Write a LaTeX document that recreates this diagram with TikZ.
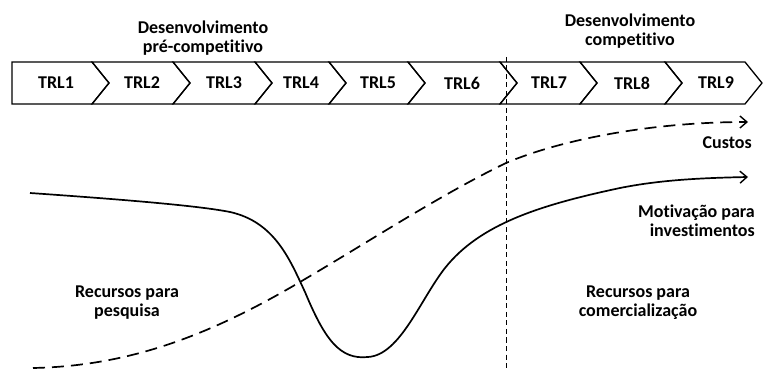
\documentclass[tikz,border=0pt]{standalone}
\usepackage{fontspec}
\setmainfont[RawFeature=-liga]{Carlito}
\usetikzlibrary{arrows.meta}
\begin{document}
\begin{tikzpicture}[x=1pt,y=-1pt,
  lbl/.style={font=\fontsize{18}{19}\selectfont\bfseries, inner sep=0pt, align=center},
  trl/.style={font=\fontsize{18}{19}\selectfont\bfseries, inner sep=0pt},
  chev/.style={draw=black, line width=1.3pt, line join=miter},
  curve/.style={line width=1.7pt, -{Straight Barb[length=7pt,width=12pt,line width=1.4pt]}},
  dcurve/.style={curve, dash pattern=on 12pt off 7pt},
  divider/.style={line width=0.9pt, dash pattern=on 5pt off 3.5pt}]
\useasboundingbox (0,0) rectangle (763,371);
% chevrons
\def\ytop{62}\def\ybot{104}\def\ymid{83}\def\dd{17}
\draw[chev] (12,\ytop) -- (92,\ytop) -- (92+\dd,\ymid) -- (92,\ybot) -- (12,\ybot) -- cycle;
\foreach \a/\b in {92/173,173/255,255/329,329/408,408/500,500/580,580/665,665/745}{
  \draw[chev] (\a,\ytop) -- (\b,\ytop) -- (\b+\dd,\ymid) -- (\b,\ybot) -- (\a,\ybot) -- (\a+\dd,\ymid) -- cycle;
}
\foreach \x/\t in {56/TRL1,142/TRL2,224/TRL3,301/TRL4,378/TRL5,462/TRL6,549/TRL7,632/TRL8,716/TRL9}{
  \node[trl] (\t) at (\x,\ymid) {\t};
}
% headings
\node[lbl] (pre) at (203,38) {Desenvolvimento\\pré-competitivo};
\node[lbl] (comp) at (630,31) {Desenvolvimento\\competitivo};
% divider
\coordinate (dtop) at (506,57);
\coordinate (dbot) at (506,371);
\draw[divider] (dtop) -- (dbot);
% curves
\coordinate (s0) at (30,193);
\coordinate (s1) at (748,177);
\draw[curve] (s0) .. controls (130,200) and (200,206) .. (230,212)
  .. controls (275,222) and (290,260) .. (305,292)
  .. controls (325,340) and (340,360) .. (368,357)
  .. controls (400,355) and (420,300) .. (445,268)
  .. controls (480,224) and (540,205) .. (620,188)
  .. controls (660,180) and (700,178) .. (s1);
\coordinate (d0) at (33,368);
\coordinate (d1) at (748,122);
\draw[dcurve] (d0) .. controls (130,366) and (210,335) .. (300,282)
  .. controls (370,241) and (440,195) .. (506,163)
  .. controls (560,140) and (650,122) .. (d1);
% labels
\node[lbl, anchor=east] (custos) at (752,143) {Custos};
\node[lbl, anchor=east, align=right] (motiv) at (755,221) {Motivação para\\investimentos};
\node[lbl] (rcom) at (638,303) {Recursos para\\comercialização};
\node[lbl] (rpes) at (127,303) {Recursos para\\pesquisa};
\end{tikzpicture}
\end{document}
